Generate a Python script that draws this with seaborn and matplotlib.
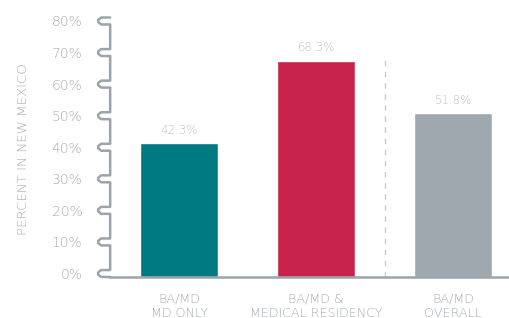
import matplotlib
matplotlib.use("Agg")
import matplotlib.pyplot as plt
import matplotlib.transforms as mtransforms
import seaborn as sns
import pandas as pd

# chart data
categories = ["BA/MD\nMD ONLY", "BA/MD &\nMEDICAL RESIDENCY", "BA/MD\nOVERALL"]
percents = [42.3, 68.3, 51.8]
bar_colors = ["#007A82", "#C8234A", "#9EA8AE"]
y_ticks = [0, 10, 20, 30, 40, 50, 60, 70, 80]

text_grey = "#A3ABB1"
axis_grey = "#9AA4AA"

sns.set_theme(style="white")
plt.rcParams["font.family"] = ["DejaVu Sans"]

df = pd.DataFrame({"group": categories, "pct": percents})

fig = plt.figure(figsize=(5.1, 3.18), dpi=100)
ax = fig.add_axes([0.216, 0.129, 0.784, 0.805])

sns.barplot(data=df, x="group", y="pct", hue="group", palette=bar_colors,
            width=0.57, saturation=1, legend=False, ax=ax)

ax.set_ylim(0, 80)
ax.set_xlim(-0.504, 2.416)

# hook height in data units; labels sit in the middle of each hook
hook_h = 2.2
ax.set_yticks([t + hook_h / 2 for t in y_ticks])
ax.set_yticklabels([f"{t}%" for t in y_ticks], fontsize=10, color=text_grey,
                   fontweight="light")
ax.tick_params(axis="y", length=0, pad=20)
ax.tick_params(axis="x", length=0, pad=11, labelsize=9.2, labelcolor=text_grey)
for lbl in ax.get_xticklabels():
    lbl.set_linespacing(1.25)
    lbl.set_fontweight("light")

ax.set_xlabel("")
ax.set_ylabel("PERCENT IN NEW MEXICO", fontsize=9.6, color=text_grey,
              labelpad=16, fontweight="light")

for side in ["top", "right", "left"]:
    ax.spines[side].set_visible(False)
ax.spines["bottom"].set_color(axis_grey)
ax.spines["bottom"].set_linewidth(1.8)

# y axis drawn as a line with a hook at every tick
w = 12 / (fig.get_figwidth() * fig.dpi * 0.784)
xs, ys = [], []
for t in sorted(y_ticks, reverse=True):
    xs += [0, -0.75 * w, -w, -w, -0.75 * w, 0]
    ys += [t + hook_h, t + hook_h, t + hook_h * 0.65, t + hook_h * 0.35, t, t]
trans = mtransforms.blended_transform_factory(ax.transAxes, ax.transData)
ax.plot(xs, ys, color=axis_grey, linewidth=1.8, solid_joinstyle="round",
        transform=trans, clip_on=False, zorder=5)

# value labels
for i, v in enumerate(percents):
    ax.text(i, v + 2.5, f"{v}%", ha="center", va="bottom", fontsize=8.5,
            color="#B8BEC3", fontweight="light")

# dashed separator before the overall bar
ax.axvline(1.5, ymin=0, ymax=0.86, color="#C5CBCF", linestyle=(0, (4, 4)),
           linewidth=1)

fig.savefig("out.png", dpi=100)
